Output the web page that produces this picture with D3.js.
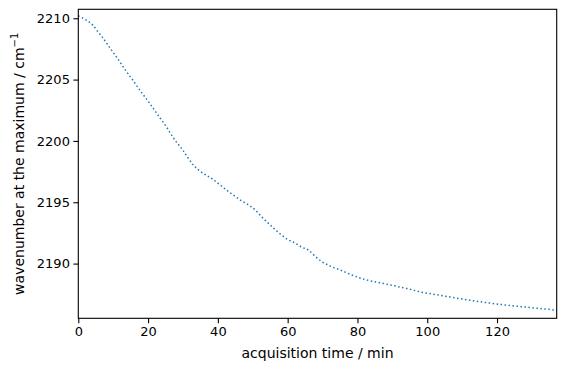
<!DOCTYPE html>
<html><head><meta charset="utf-8">
<script src="https://cdn.jsdelivr.net/npm/d3@7"></script>
<style>
html,body{margin:0;padding:0;background:#fff;}
text{font-family:"DejaVu Sans",sans-serif;fill:#000;}
</style></head><body>
<svg id="c" width="566" height="374"></svg>
<script>
const time = [0, 2.2, 4.1, 5.6, 7.1, 9.1, 11.3, 13.4, 15.5, 18.2, 20.5, 22.5, 25.3, 27.2, 30.1, 33.0, 35.4, 38.2, 42.5, 46.3, 50.6, 52.6, 55.9, 57.8, 59.7, 62.1, 64.0, 66.1, 67.8, 69.7, 72.1, 75.3, 77.9, 80.7, 83.4, 87.4, 91.7, 95.0, 97.9, 103.6, 113.2, 122.8, 132.3, 137.1];
const wavenumber = [2210.2, 2209.86, 2209.46, 2208.91, 2208.38, 2207.57, 2206.70, 2205.81, 2205.0, 2203.92, 2203.05, 2202.24, 2201.13, 2200.27, 2199.19, 2198.02, 2197.43, 2196.94, 2195.99, 2195.21, 2194.40, 2193.80, 2192.91, 2192.43, 2192.02, 2191.67, 2191.35, 2191.07, 2190.62, 2190.18, 2189.81, 2189.45, 2189.13, 2188.83, 2188.61, 2188.38, 2188.12, 2187.91, 2187.70, 2187.42, 2186.97, 2186.61, 2186.34, 2186.20];
const xTicks = [0, 20, 40, 60, 80, 100, 120];
const yTicks = [2190, 2195, 2200, 2205, 2210];

const L = 78.3, R = 556.7, T = 9.3, B = 318.3;
const svg = d3.select("#c");
const x = d3.scaleLinear().domain([0, 137.1]).range([L, R]);
const y = d3.scaleLinear().domain([2185.54, 2210.73]).range([B, T]);

const data = time.map((t, i) => ({t, w: wavenumber[i]}));
svg.append("path").datum(data)
  .attr("fill", "none").attr("stroke", "#1f77b4").attr("stroke-width", 1.5)
  .attr("stroke-dasharray", "1.5,2.5")
  .attr("d", d3.line().x(d => x(d.t)).y(d => y(d.w)).curve(d3.curveMonotoneX));

const xa = svg.append("g").attr("transform", `translate(0,${B})`)
  .call(d3.axisBottom(x).tickValues(xTicks).tickFormat(d3.format("d")).tickSize(4.9).tickPadding(3.5).tickSizeOuter(0));
const ya = svg.append("g").attr("transform", `translate(${L},0)`)
  .call(d3.axisLeft(y).tickValues(yTicks).tickFormat(d3.format("d")).tickSize(4.9).tickPadding(3.5).tickSizeOuter(0));
[xa, ya].forEach(a => {
  a.select(".domain").remove();
  a.selectAll("line").attr("stroke", "#000").attr("stroke-width", 1.1);
  a.selectAll("text").attr("font-family", "DejaVu Sans").attr("font-size", 13).attr("fill", "#000");
});

svg.append("rect").attr("x", L).attr("y", T).attr("width", R - L).attr("height", B - T)
  .attr("fill", "none").attr("stroke", "#000").attr("stroke-width", 1.1);

svg.append("text").attr("x", (L + R) / 2).attr("y", 358).attr("text-anchor", "middle")
  .attr("font-size", 14).text("acquisition time / min");

const yl = svg.append("text").attr("transform", `translate(24,${(T + B) / 2}) rotate(-90)`)
  .attr("text-anchor", "middle").attr("font-size", 14);
yl.append("tspan").text("wavenumber at the maximum / cm");
yl.append("tspan").attr("font-size", 10).attr("dy", -6).text("\u22121");
</script>
</body></html>
